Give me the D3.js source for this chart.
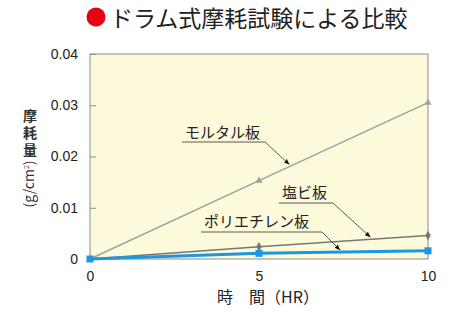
<!DOCTYPE html>
<html>
<head>
<meta charset="utf-8">
<script src="https://cdn.jsdelivr.net/npm/d3@7"></script>
<style>
body { margin: 0; background: #fff; }
text { font-family: "Liberation Sans", "Noto Sans CJK JP", sans-serif; }
.jp { font-family: "Noto Sans CJK JP", sans-serif; }
</style>
</head>
<body>
<div id="chart"></div>
<script>
// data
var hours = [0, 5, 10];
var mortar = [0, 0.0153, 0.0305];
var pvc = [0, 0.0024, 0.0046];
var polyethylene = [0, 0.0011, 0.0016];
var yTicks = [0, 0.01, 0.02, 0.03, 0.04];
var xTicks = [0, 5, 10];

var w = 450, h = 313;
var plotLeft = 90, plotRight = 428, plotTop = 54, plotBottom = 259;

var svg = d3.select('#chart').append('svg')
    .attr('width', w)
    .attr('height', h);

var xScale = d3.scaleLinear().domain([0, 10]).range([plotLeft, plotRight]);
var yScale = d3.scaleLinear().domain([0, 0.04]).range([plotBottom, plotTop]);

// title
svg.append('circle')
    .attr('cx', 96).attr('cy', 17).attr('r', 9.5)
    .attr('fill', '#e60012');
svg.append('text')
    .attr('class', 'jp')
    .attr('x', 110).attr('y', 27)
    .attr('font-size', 23)
    .attr('fill', '#222')
    .text('ドラム式摩耗試験による比較');

// plot background
svg.append('rect')
    .attr('x', plotLeft).attr('y', plotTop)
    .attr('width', plotRight - plotLeft).attr('height', plotBottom - plotTop)
    .attr('fill', '#fdf9db')
    .attr('stroke', '#8c8c8c')
    .attr('stroke-width', 1);

// axes
var yAxis = d3.axisLeft(yScale).tickValues(yTicks).tickSize(-6)
    .tickFormat(function(d) { return d === 0 ? '0' : d3.format('.2f')(d); });
var xAxis = d3.axisBottom(xScale).tickValues(xTicks).tickSize(0).tickFormat(d3.format('d'));

var gy = svg.append('g')
    .attr('transform', 'translate(' + plotLeft + ',0)')
    .call(yAxis);
gy.select('.domain').remove();
gy.selectAll('line').attr('stroke', '#8c8c8c');
gy.selectAll('text')
    .attr('x', -12)
    .attr('font-size', 14)
    .attr('fill', '#222')
    .style('font-family', '"Liberation Sans", sans-serif');

var gx = svg.append('g')
    .attr('transform', 'translate(0,' + plotBottom + ')')
    .call(xAxis);
gx.select('.domain').remove();
gx.selectAll('text')
    .attr('y', 12)
    .attr('font-size', 14)
    .attr('fill', '#222')
    .style('font-family', '"Liberation Sans", sans-serif');

// axis titles
svg.append('text')
    .attr('class', 'jp')
    .attr('x', 268).attr('y', 303)
    .attr('text-anchor', 'middle')
    .attr('font-size', 16)
    .attr('fill', '#222')
    .text('時　間（HR）');

// vertical y title
svg.append('text')
    .attr('class', 'jp')
    .attr('x', 30).attr('y', 109)
    .style('writing-mode', 'vertical-rl')
    .attr('font-size', 14)
    .attr('letter-spacing', 3)
    .attr('font-weight', 'bold')
    .attr('fill', '#333')
    .text('摩耗量');

var unit = svg.append('text')
    .attr('class', 'jp')
    .attr('transform', 'translate(34,184) rotate(-90)')
    .attr('text-anchor', 'middle')
    .attr('font-size', 14)
    .attr('fill', '#333');
unit.append('tspan').text('(g/cm');
unit.append('tspan').attr('font-size', 7).attr('dy', -5).text('2');
unit.append('tspan').attr('dy', 5).text(')');

// lines
var line = function(vals) {
    return d3.line()
        .x(function(d, i) { return xScale(hours[i]); })
        .y(function(d) { return yScale(d); })(vals);
};

svg.append('path').attr('d', line(mortar))
    .attr('fill', 'none').attr('stroke', '#a0a0a0').attr('stroke-width', 1.5);
svg.append('path').attr('d', line(pvc))
    .attr('fill', 'none').attr('stroke', '#767676').attr('stroke-width', 1.5);
svg.append('path').attr('d', line(polyethylene))
    .attr('fill', 'none').attr('stroke', '#1b98e0').attr('stroke-width', 3);

// markers
svg.selectAll('.m-mortar')
    .data(mortar.slice(1))
    .enter()
    .append('path')
    .attr('d', d3.symbol().type(d3.symbolTriangle).size(22))
    .attr('transform', function(d, i) { return 'translate(' + xScale(hours[i + 1]) + ',' + yScale(d) + ')'; })
    .attr('fill', '#a0a0a0');

svg.selectAll('.m-pvc')
    .data(pvc.slice(1))
    .enter()
    .append('path')
    .attr('d', d3.symbol().type(d3.symbolDiamond).size(26))
    .attr('transform', function(d, i) { return 'translate(' + xScale(hours[i + 1]) + ',' + yScale(d) + ')'; })
    .attr('fill', '#767676');

svg.selectAll('.m-pe')
    .data(polyethylene)
    .enter()
    .append('rect')
    .attr('x', function(d, i) { return xScale(hours[i]) - 3.5; })
    .attr('y', function(d) { return yScale(d) - 3.5; })
    .attr('width', 7).attr('height', 7)
    .attr('fill', '#1b98e0');

// callout labels
svg.append('defs').append('marker')
    .attr('id', 'arrow')
    .attr('viewBox', '0 0 10 10')
    .attr('refX', 10).attr('refY', 5)
    .attr('markerWidth', 7).attr('markerHeight', 7)
    .attr('orient', 'auto')
    .append('path')
    .attr('d', 'M0,1 L10,5 L0,9 Z')
    .attr('fill', '#111');

var labels = [
    { text: 'モルタル板', x: 185, y: 138, x2: 265, ly: 142, tx: 5.9, ty: mortar[1] + (mortar[2] - mortar[1]) * 0.18 },
    { text: '塩ビ板', x: 282, y: 198, x2: 333, ly: 203, tx: 8.3, ty: pvc[1] + (pvc[2] - pvc[1]) * 0.66 },
    { text: 'ポリエチレン板', x: 204, y: 227, x2: 322, ly: 232, tx: 7.4, ty: polyethylene[1] + (polyethylene[2] - polyethylene[1]) * 0.48 }
];

labels.forEach(function(l) {
    svg.append('text')
        .attr('class', 'jp')
        .attr('x', l.x).attr('y', l.y)
        .attr('font-size', 15)
        .attr('fill', '#222')
        .text(l.text);
    svg.append('path')
        .attr('d', 'M' + (l.x - 3) + ',' + l.ly + ' L' + l.x2 + ',' + l.ly +
            ' L' + xScale(l.tx) + ',' + (yScale(l.ty) - 2))
        .attr('fill', 'none')
        .attr('stroke', '#333')
        .attr('stroke-width', 0.8)
        .attr('marker-end', 'url(#arrow)');
});
</script>
</body>
</html>
